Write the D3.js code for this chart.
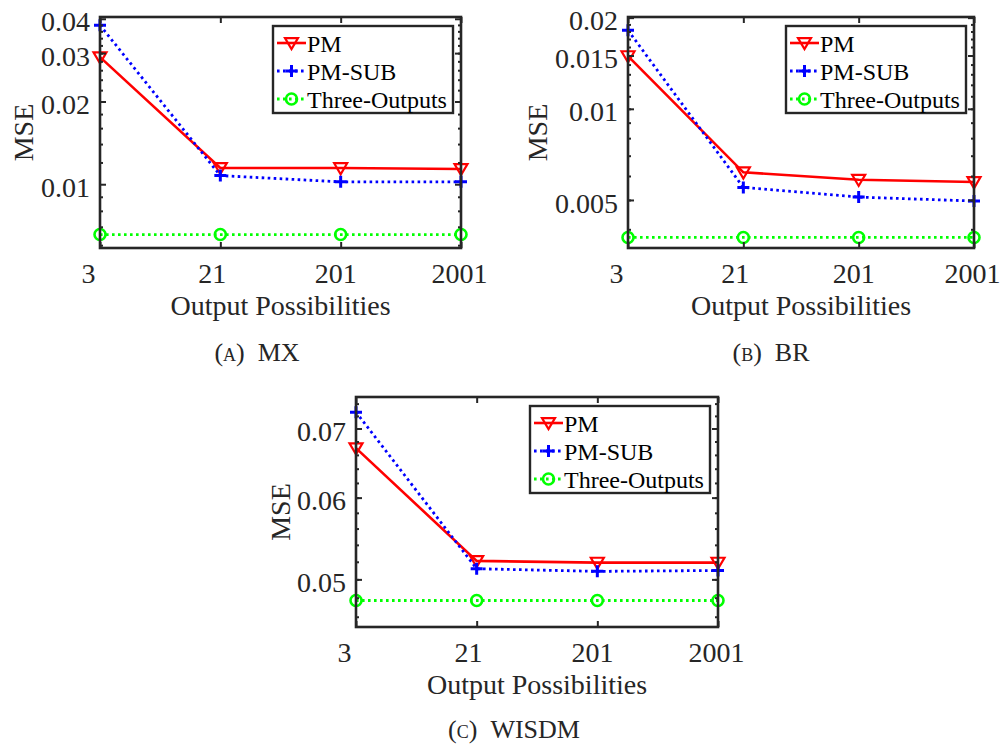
<!DOCTYPE html>
<html>
<head>
<meta charset="utf-8">
<script src="https://cdn.jsdelivr.net/npm/d3@7"></script>
<style>
  body { margin: 0; background: #fff; }
  svg, svg text { font-family: "Liberation Serif", "Times New Roman", Tinos, "DejaVu Serif", serif !important; }
</style>
</head>
<body>
<div id="chart"></div>
<script>
// ============================================================
// Data
// ============================================================
var outputs = ["3", "21", "201", "2001"];

var mxPM    = [0.0290, 0.01146, 0.01145, 0.01136];
var mxSUB   = [0.0379, 0.01075, 0.0102, 0.0102];
var mxThree = [0.00656, 0.00656, 0.00656, 0.00656];

var brPM    = [0.01493, 0.00617, 0.00583, 0.00573];
var brSUB   = [0.01817, 0.0055, 0.00511, 0.00496];
var brThree = [0.00376, 0.00376, 0.00376, 0.00376];

var wisdmPM    = [0.0670, 0.0521, 0.0519, 0.0519];
var wisdmSUB   = [0.0726, 0.0512, 0.0509, 0.0510];
var wisdmThree = [0.0477, 0.0477, 0.0477, 0.0477];

var mxTicks    = [0.01, 0.02, 0.03, 0.04];
var brTicks    = [0.005, 0.01, 0.015, 0.02];
var wisdmTicks = [0.05, 0.06, 0.07];

var mxTickLabels    = ["0.01", "0.02", "0.03", "0.04"];
var brTickLabels    = ["0.005", "0.01", "0.015", "0.02"];
var wisdmTickLabels = ["0.05", "0.06", "0.07"];

var seriesNames = ["PM", "PM-SUB", "Three-Outputs"];

// ============================================================
// Layout
// ============================================================
var panels = [
    { left: 100, right: 461, top: 17, bottom: 248, domain: [0.00586, 0.0406],
      ticks: mxTicks, tickLabels: mxTickLabels,
      minor: d3.range(0.006, 0.0099, 0.001).concat(d3.range(0.012, 0.0399, 0.002)),
      values: [mxPM, mxSUB, mxThree], mseX: 33, caption: "(a) MX", capX: 257, capY: 361 },
    { left: 628, right: 974, top: 17, bottom: 248, domain: [0.00347, 0.0201],
      ticks: brTicks, tickLabels: brTickLabels,
      minor: d3.range(0.004, 0.0199, 0.001),
      values: [brPM, brSUB, brThree], mseX: 547, caption: "(b) BR", capX: 771, capY: 361 },
    { left: 356, right: 718, top: 397, bottom: 627, domain: [0.04496, 0.0751],
      ticks: wisdmTicks, tickLabels: wisdmTickLabels,
      minor: d3.range(0.046, 0.0749, 0.002),
      values: [wisdmPM, wisdmSUB, wisdmThree], mseX: 290, caption: "(c) WISDM", capX: 514, capY: 738 }
];

var ink = "#262626";
var serif = "'Liberation Serif', 'Times New Roman', Tinos, 'DejaVu Serif', serif";
var styles = [
    { color: "#ff0000", dash: null,  width: 2.6, marker: "tri" },
    { color: "#0000ff", dash: "2.6,3.4", width: 2.8, marker: "plus" },
    { color: "#00ff00", dash: "2.6,3.4", width: 2.8, marker: "circle" }
];

var svg = d3.select("#chart").append("svg")
    .attr("width", 1007)
    .attr("height", 750)
    .attr("font-family", serif);

svg.append("rect").attr("width", 1007).attr("height", 750).attr("fill", "#fff");

function drawMarker(g, type, color, cx, cy) {
    if (type === "tri") {
        var s = 6.5;
        g.append("path")
            .attr("d", "M" + (cx - s) + "," + (cy - s * 0.75) + "L" + (cx + s) + "," + (cy - s * 0.75) + "L" + cx + "," + (cy + s * 0.95) + "Z")
            .attr("fill", "none").attr("stroke", color).attr("stroke-width", 2.2);
    } else if (type === "plus") {
        var p = 6;
        g.append("path")
            .attr("d", "M" + (cx - p) + "," + cy + "H" + (cx + p) + "M" + cx + "," + (cy - p) + "V" + (cy + p))
            .attr("stroke", color).attr("stroke-width", 3);
    } else {
        g.append("circle").attr("cx", cx).attr("cy", cy).attr("r", 5.5)
            .attr("fill", "none").attr("stroke", color).attr("stroke-width", 2.6);
    }
}

panels.forEach(function (p) {
    var x = d3.scalePoint().domain(outputs).range([p.left, p.right]);
    // tick labels in the figure sit slightly left of their ticks
    var xLab = d3.scalePoint().domain(outputs).range([p.left - 12, p.right - 2]);
    var y = d3.scaleLog().domain(p.domain).range([p.bottom, p.top]);

    var g = svg.append("g");

    // lines
    var line = d3.line()
        .x(function (d, i) { return x(outputs[i]); })
        .y(function (d) { return y(d); });

    var lg = g.append("g");
    p.values.forEach(function (vals, k) {
        var st = styles[k];
        lg.append("path")
            .datum(vals)
            .attr("d", line)
            .attr("fill", "none")
            .attr("stroke", st.color)
            .attr("stroke-width", st.width)
            .attr("stroke-dasharray", st.dash);
        vals.forEach(function (v, i) {
            drawMarker(lg, st.marker, st.color, x(outputs[i]), y(v));
        });
    });

    // axes (inward ticks on all four sides)
    var left = g.append("g").attr("transform", "translate(" + p.left + ",0)")
        .call(d3.axisLeft(y).tickValues(p.ticks)
            .tickFormat(function (d, i) { return p.tickLabels[i]; })
            .tickSizeInner(-6).tickSizeOuter(0).tickPadding(10));
    left.selectAll("text").attr("dy", "0.43em");

    g.append("g").attr("transform", "translate(" + p.left + ",0)")
        .call(d3.axisLeft(y).tickValues(p.minor).tickFormat("").tickSizeInner(-3).tickSizeOuter(0));
    g.append("g").attr("transform", "translate(" + p.right + ",0)")
        .call(d3.axisRight(y).tickValues(p.ticks).tickFormat("").tickSizeInner(-6).tickSizeOuter(0));
    g.append("g").attr("transform", "translate(" + p.right + ",0)")
        .call(d3.axisRight(y).tickValues(p.minor).tickFormat("").tickSizeInner(-3).tickSizeOuter(0));

    var bottom = g.append("g").attr("transform", "translate(0," + p.bottom + ")")
        .call(d3.axisBottom(x).tickSizeInner(-6).tickSizeOuter(0).tickPadding(15));
    bottom.selectAll("text").attr("x", function (d) { return xLab(d) - x(d); });
    g.append("g").attr("transform", "translate(0," + p.top + ")")
        .call(d3.axisTop(x).tickFormat("").tickSizeInner(-6).tickSizeOuter(0));

    g.selectAll(".domain").remove();
    g.selectAll("g").attr("font-family", serif);
    g.selectAll(".tick line").attr("stroke", ink).attr("stroke-width", 2);
    g.selectAll(".tick text").attr("fill", ink).attr("font-size", 28);

    g.append("rect")
        .attr("x", p.left).attr("y", p.top)
        .attr("width", p.right - p.left).attr("height", p.bottom - p.top)
        .attr("fill", "none").attr("stroke", ink).attr("stroke-width", 2.6);

    // axis titles
    g.append("text")
        .attr("x", (p.left + p.right) / 2).attr("y", p.bottom + 67)
        .attr("text-anchor", "middle").attr("fill", ink)
        .attr("font-size", 28)
        .text("Output Possibilities");

    g.append("text")
        .attr("transform", "translate(" + p.mseX + "," + (p.top + p.bottom) / 2 + ") rotate(-90)")
        .attr("text-anchor", "middle").attr("fill", ink)
        .attr("font-size", 28)
        .text("MSE");

    // legend
    var lx = p.right - 188, ly = p.top + 9;
    var leg = g.append("g").attr("transform", "translate(" + lx + "," + ly + ")");
    leg.append("rect").attr("width", 180).attr("height", 87)
        .attr("fill", "#fff").attr("stroke", ink).attr("stroke-width", 2.4);
    seriesNames.forEach(function (name, k) {
        var st = styles[k];
        var cy = 17 + k * 28;
        leg.append("line")
            .attr("x1", 4).attr("x2", 33).attr("y1", cy).attr("y2", cy)
            .attr("stroke", st.color).attr("stroke-width", st.width)
            .attr("stroke-dasharray", st.dash);
        drawMarker(leg, st.marker, st.color, 18.5, cy);
        leg.append("text")
            .attr("x", 34).attr("y", cy + 8.5)
            .attr("fill", "#000")
            .attr("font-size", 24)
            .text(name);
    });

    // caption
    g.append("text")
        .attr("x", p.capX).attr("y", p.capY)
        .attr("text-anchor", "middle").attr("fill", ink)
        .attr("font-size", 26)
        .style("font-variant", "small-caps")
        .text(p.caption.replace(" ", "\u00a0\u00a0"));
});
</script>
</body>
</html>
